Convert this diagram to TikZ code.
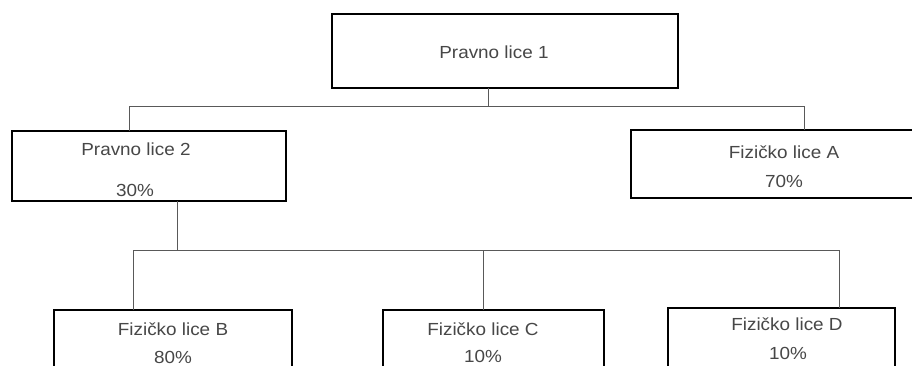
\documentclass[tikz,border=0pt]{standalone}
\usepackage{fontspec}
\setmainfont{Liberation Sans}[FakeStretch=1.08]
\begin{document}
\begin{tikzpicture}[x=1pt,y=-1pt,
  box/.style={draw=black,line width=2.8pt,inner sep=0pt,outer sep=0pt,fill=white},
  txt/.style={text=black!72,font=\fontsize{17.5}{20}\selectfont,inner sep=0pt,anchor=center},
  conn/.style={draw=black!65,line width=1pt}]
\useasboundingbox (0,0) rectangle (912,365);
\clip (0,0) rectangle (912,365);
% boxes
\node[box,minimum width=346pt,minimum height=74pt] (t1) at (505,51) {};
\node[box,minimum width=274pt,minimum height=70pt] (p2) at (149,166) {};
\node[box,minimum width=299pt,minimum height=68pt] (fa) at (780.5,164) {};
\node[box,minimum width=238pt,minimum height=90pt] (fb) at (173,355) {};
\node[box,minimum width=221pt,minimum height=90pt] (fc) at (493.5,355) {};
\node[box,minimum width=227pt,minimum height=92pt] (fd) at (781.5,354) {};
% texts
\node[txt] (t1a) at (494,52) {Pravno lice 1};
\node[txt] (p2a) at (136,149) {Pravno lice 2};
\node[txt] (p2b) at (135,190) {30\%};
\node[txt] (faa) at (784,152) {Fizi\v{c}ko lice A};
\node[txt] (fab) at (784,181) {70\%};
\node[txt] (fba) at (173,329) {Fizi\v{c}ko lice B};
\node[txt] (fbb) at (173,357) {80\%};
\node[txt] (fca) at (483,329) {Fizi\v{c}ko lice C};
\node[txt] (fcb) at (483,356) {10\%};
\node[txt] (fda) at (787,324) {Fizi\v{c}ko lice D};
\node[txt] (fdb) at (788,353) {10\%};
% junction coordinates
\coordinate (j1) at (488,106);
\coordinate (j1l) at (129,106);
\coordinate (j1r) at (804,106);
\coordinate (j2) at (177,250);
\coordinate (j2l) at (133,250);
\coordinate (j2m) at (483,250);
\coordinate (j2r) at (839,250);
% connectors
\draw[conn] (t1.south -| j1) -- (j1);
\draw[conn] (p2.north -| j1l) -- (j1l) -- (j1r) -- (fa.north -| j1r);
\draw[conn] (p2.south -| j2) -- (j2);
\draw[conn] (fb.north -| j2l) -- (j2l) -- (j2r) -- (fd.north -| j2r);
\draw[conn] (j2m) -- (fc.north -| j2m);
\end{tikzpicture}
\end{document}
